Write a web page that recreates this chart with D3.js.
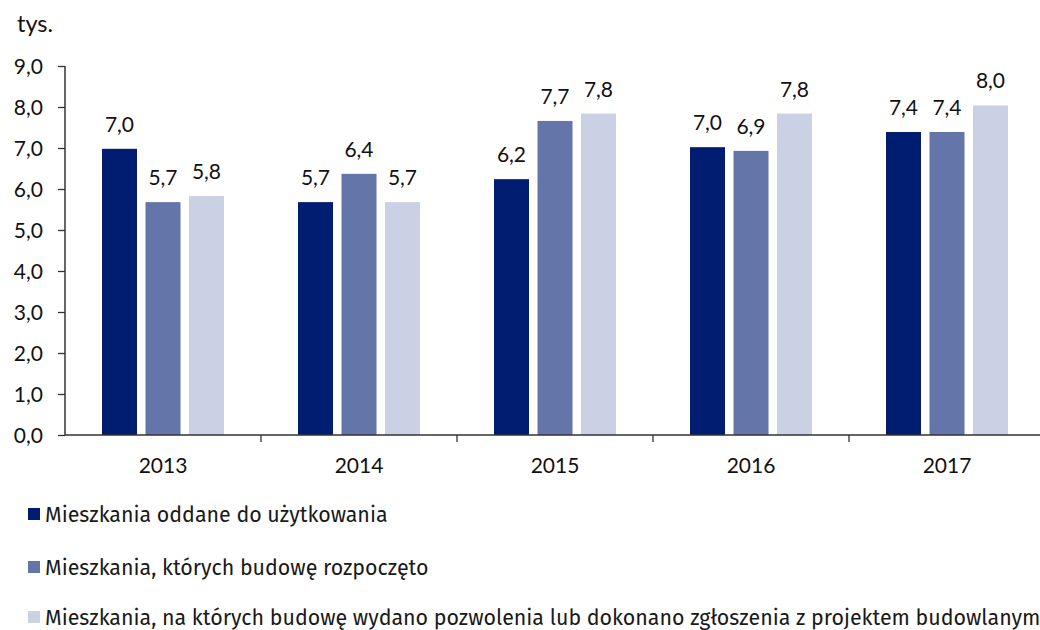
<!DOCTYPE html>
<html><head><meta charset="utf-8">
<script src="https://cdn.jsdelivr.net/npm/d3@7"></script>
<style>body{margin:0;background:#fff}svg{display:block}text{fill:#111}
.num{font-family:Lato,"Open Sans",sans-serif}
.leg{font-family:"Fira Sans","Open Sans","Noto Sans",sans-serif;fill:#1a1a1a}</style>
</head><body><svg id="c" width="1040" height="630"></svg>
<script>
const categories = ["2013","2014","2015","2016","2017"];
const seriesNames = ["Mieszkania oddane do użytkowania","Mieszkania, których budowę rozpoczęto","Mieszkania, na których budowę wydano pozwolenia lub dokonano zgłoszenia z projektem budowlanym"];
const oddane = [6.98, 5.68, 6.24, 7.02, 7.39];
const rozpoczete = [5.68, 6.37, 7.66, 6.93, 7.39];
const pozwolenia = [5.83, 5.68, 7.84, 7.84, 8.04];
const colors = ["#001d72", "#6475aa", "#cbd1e5"];
const yTicks = [0,1,2,3,4,5,6,7,8,9];
const unitLabel = "tys.";

const series = [oddane, rozpoczete, pozwolenia];
const svg = d3.select("#c");
const x0 = 65, yBase = 435, yTop = 66, band = 196;
const x = d3.scaleBand().domain(categories).range([x0, x0 + band*categories.length]).paddingInner(0).paddingOuter(0);
const y = d3.scaleLinear().domain([0, 9]).range([yBase, yTop]);
const barW = 35, step = 43.5;
const fmt = v => d3.format(".1f")(v).replace(".", ",");

// bars
series.forEach((vals, s) => {
  const g = svg.append("g");
  g.selectAll("rect").data(vals).join("rect")
    .attr("x", (d,i) => x(categories[i]) + band/2 - barW/2 + (s-1)*step)
    .attr("y", d => y(d))
    .attr("width", barW)
    .attr("height", d => yBase - y(d))
    .attr("fill", colors[s]);
  g.selectAll("text").data(vals).join("text")
    .attr("class", "num")
    .attr("x", (d,i) => x(categories[i]) + band/2 + (s-1)*step)
    .attr("y", d => y(d) - 17)
    .attr("text-anchor", "middle")
    .attr("font-size", 21)
    .text(d => fmt(d));
});

// y axis
const yAxis = d3.axisLeft(y).tickValues(yTicks).tickSize(7).tickFormat(d => fmt(d));
const ya = svg.append("g").attr("transform", `translate(${x0},0)`).call(yAxis);
ya.select(".domain").attr("d", `M0,${yTop}V${yBase}`).attr("stroke", "#333").attr("stroke-width", 1.5);
ya.selectAll(".tick line").attr("stroke", "#333").attr("stroke-width", 1.3);
ya.selectAll(".tick text").attr("class", "num").attr("font-size", 21).attr("x", -22).attr("dy", "0.36em").attr("fill", "#111").attr("font-family", null);

// x axis
const xa = svg.append("g").attr("transform", `translate(0,${yBase})`);
xa.append("line").attr("x1", x0).attr("x2", 1040).attr("y1", 0).attr("y2", 0).attr("stroke", "#333").attr("stroke-width", 1.5);
xa.selectAll("line.t").data(categories.slice(1)).join("line").attr("class","t")
  .attr("x1", d => x(d)).attr("x2", d => x(d)).attr("y1", 0).attr("y2", 7)
  .attr("stroke", "#333").attr("stroke-width", 1.3);
xa.selectAll("text").data(categories).join("text")
  .attr("class", "num")
  .attr("x", d => x(d) + band/2).attr("y", 38)
  .attr("text-anchor", "middle").attr("font-size", 21).text(d => d);

// unit label
svg.append("text").attr("class", "num").attr("x", 17).attr("y", 32).attr("font-size", 23.5).text(unitLabel);

// legend
const legY = [514, 567, 617];
seriesNames.forEach((n, i) => {
  svg.append("rect").attr("x", 28).attr("y", legY[i]-6).attr("width", 12).attr("height", 12).attr("fill", colors[i]);
  svg.append("text").attr("class", "leg").attr("x", 45).attr("y", legY[i]+7.5).attr("font-size", 21.4).text(n);
});
</script></body></html>
